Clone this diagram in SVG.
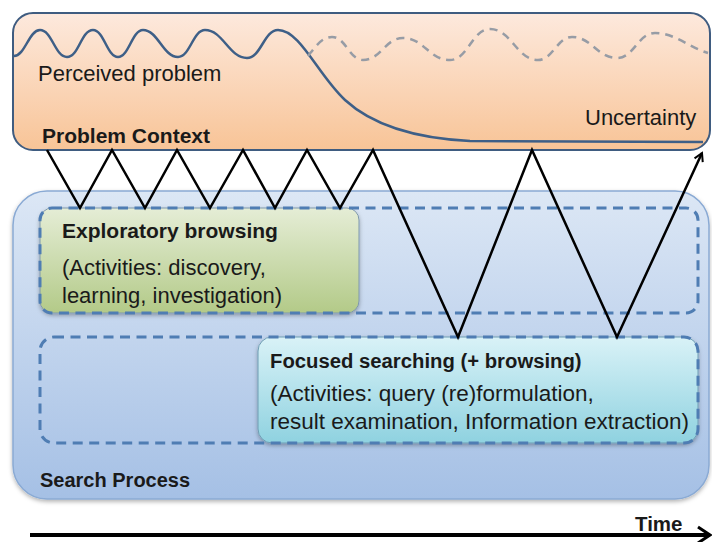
<svg xmlns="http://www.w3.org/2000/svg" width="712" height="542" viewBox="0 0 712 542">
  <defs>
    <linearGradient id="gradProblem" x1="0" y1="0" x2="0" y2="1">
      <stop offset="0" stop-color="#fde9dd"/>
      <stop offset="1" stop-color="#f8c497"/>
    </linearGradient>
    <linearGradient id="gradSearch" x1="0" y1="0" x2="0" y2="1">
      <stop offset="0" stop-color="#dce7f5"/>
      <stop offset="1" stop-color="#a5c0e5"/>
    </linearGradient>
    <linearGradient id="gradExplore" x1="0" y1="0" x2="0" y2="1">
      <stop offset="0" stop-color="#e5edd6"/>
      <stop offset="1" stop-color="#b3ca88"/>
    </linearGradient>
    <linearGradient id="gradFocus" x1="0" y1="0" x2="0" y2="1">
      <stop offset="0" stop-color="#d9f2f7"/>
      <stop offset="1" stop-color="#8fd2e0"/>
    </linearGradient>
    <filter id="softShadow" x="-5%" y="-5%" width="110%" height="115%">
      <feDropShadow dx="0" dy="2" stdDeviation="2" flood-color="#000" flood-opacity="0.3"/>
    </filter>
    <marker id="arrowSmall" viewBox="0 0 12 12" refX="10" refY="6" markerWidth="12" markerHeight="12" markerUnits="userSpaceOnUse" orient="auto">
      <path d="M2,1.5 L10,6 L2,10.5" fill="none" stroke="#000" stroke-width="2"/>
    </marker>
    <marker id="arrowTime" viewBox="0 0 16 20" refX="14" refY="10" markerWidth="16" markerHeight="20" markerUnits="userSpaceOnUse" orient="auto">
      <path d="M2,2 L14,10 L2,18" fill="none" stroke="#000" stroke-width="3"/>
    </marker>
    <style>
      .lbl { font-family: "Liberation Sans", Arial, sans-serif; fill: #1a1a1a; }
      .bold { font-weight: bold; }
      .row { fill: none; stroke: #4f7db3; stroke-width: 3; stroke-dasharray: 10 6.5; }
      .zig { fill: none; stroke: #000; stroke-width: 2.5; stroke-linejoin: miter; }
    </style>
  </defs>

  <!-- Problem context band -->
  <g id="problem-context">
    <rect x="13" y="13" width="697" height="137" rx="20" fill="url(#gradProblem)" stroke="#3f5c80" stroke-width="2"/>
    <!-- perceived problem wave turning into falling uncertainty curve -->
    <path d="M14,56 C25,56 29,30 40,30 C52,30 55,57 67,57 C79,57 81,30 93,30 C104,30 107,57 118,57 C129,57 132,30 143,30 C158,30 163,57 178,57 C190,57 193,30 205,30 C223,30 229,58 247,58 C261,58 264,30 278,30 C300,30 318,75 345,100 C370,123 410,138 470,141 L703,142" fill="none" stroke="#3e5f87" stroke-width="2.5"/>
    <!-- continued problem perception (dashed) -->
    <path d="M308,56 C316,46 322,37 332,37 C346,37 349,60 363,60 C381,60 385,38 403,38 C424,38 429,60 450,60 C468,60 472,29 490,29 C511,29 517,60 538,60 C553,60 557,37 572,37 C592,37 597,58 617,58 C634,58 638,33 655,33 C675,33 690,48 708,53" fill="none" stroke="#979ca5" stroke-width="2.5" stroke-dasharray="8 6"/>
    <text class="lbl" x="38" y="81" font-size="22">Perceived problem</text>
    <text class="lbl" x="585" y="125" font-size="22">Uncertainty</text>
    <text class="lbl bold" x="42" y="143" font-size="21">Problem Context</text>
  </g>

  <!-- Search process container -->
  <g id="search-process">
    <rect x="13" y="191" width="696" height="308" rx="34" fill="url(#gradSearch)" stroke="#8aaad4" stroke-width="1.5" filter="url(#softShadow)"/>
    <text class="lbl bold" x="40" y="487" font-size="20">Search Process</text>
  </g>

  <!-- Exploratory browsing -->
  <g id="exploratory-browsing">
    <rect x="40" y="208" width="319" height="105" rx="12" fill="url(#gradExplore)" stroke="#7f98ad" stroke-width="1" filter="url(#softShadow)"/>
    <rect class="row" x="40" y="208" width="658" height="105" rx="12"/>
    <text class="lbl bold" x="62" y="238" font-size="21">Exploratory browsing</text>
    <text class="lbl" x="62" y="275" font-size="22">(Activities: discovery,</text>
    <text class="lbl" x="62" y="303" font-size="22">learning, investigation)</text>
  </g>

  <!-- Focused searching -->
  <g id="focused-searching">
    <rect x="258" y="337" width="440" height="106" rx="14" fill="url(#gradFocus)" stroke="#6f9cb3" stroke-width="1" filter="url(#softShadow)"/>
    <rect class="row" x="40" y="337" width="658" height="106" rx="14"/>
    <text class="lbl bold" x="270" y="368" font-size="20.3">Focused searching (+ browsing)</text>
    <text class="lbl" x="270" y="401" font-size="22.5">(Activities: query (re)formulation,</text>
    <text class="lbl" x="270" y="429" font-size="22.5">result examination, Information extraction)</text>
  </g>

  <!-- Connectors: interaction path between problem context and search activities -->
  <g id="connectors">
    <polyline class="zig" points="47,150 80,208 112,150 145,208 177,150 210,208 243,150 275,208 307,150 340,208 373,150 458,337 532,150 617,337 702,153" marker-end="url(#arrowSmall)"/>
    <line x1="30" y1="535" x2="710" y2="535" stroke="#000" stroke-width="4" marker-end="url(#arrowTime)"/>
  </g>

  <g id="time-label">
    <text class="lbl bold" x="635" y="531" font-size="20.5">Time</text>
  </g>
</svg>
